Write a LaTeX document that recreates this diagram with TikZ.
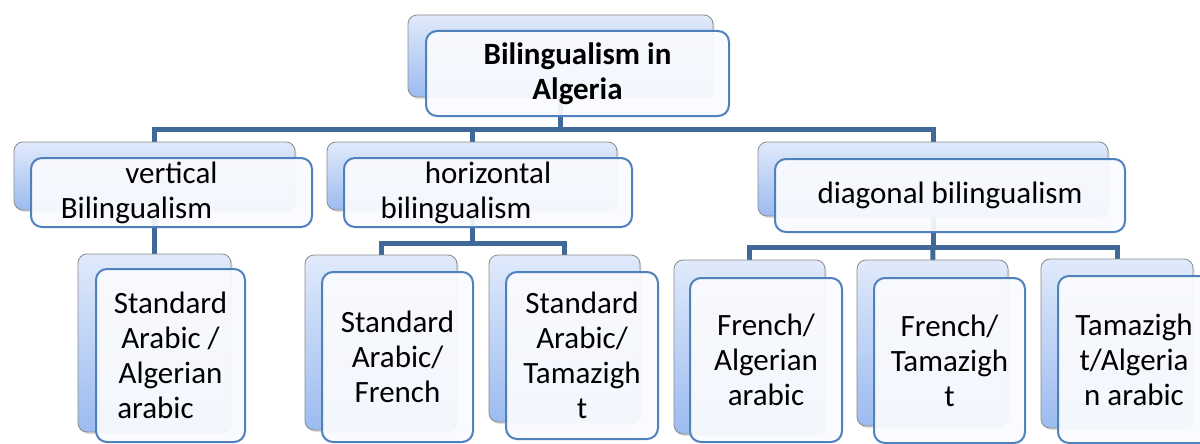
\documentclass[tikz,border=0pt]{standalone}
\usepackage{fontspec}
\setmainfont{Carlito}
\usetikzlibrary{shadows}

\definecolor{linkblue}{RGB}{64,104,152}
\definecolor{frameblue}{RGB}{79,129,189}
\definecolor{backtop}{RGB}{224,234,251}
\definecolor{backbot}{RGB}{156,187,240}
\definecolor{backedge}{RGB}{140,140,140}
\definecolor{cardwhite}{RGB}{250,251,254}

\tikzset{
  backcard/.style={draw=backedge, line width=0.8pt, rounded corners=9pt,
    top color=backtop, bottom color=backbot, inner sep=0pt,
    drop shadow={opacity=0.25, shadow xshift=1.5pt, shadow yshift=-2pt}},
  frontcard/.style={draw=frameblue, line width=2pt, rounded corners=11pt,
    fill=cardwhite, fill opacity=0.93, text opacity=1, draw opacity=1,
    inner sep=0pt, align=center, text=black,
    font=\fontsize{31}{35}\selectfont},
  link/.style={draw=linkblue, line width=5pt},
}

\begin{document}
\begin{tikzpicture}[x=1pt, y=-1pt]
\useasboundingbox (0,0) rectangle (1200,444);
\clip (0,0) rectangle (1200,444);

% levels of the connector buses
\coordinate (bus1) at (0,129);
\coordinate (bus2) at (0,243);
\coordinate (bus3) at (0,247);

% centres of the back cards
\path
  (560.5,56)  coordinate (topC)
  (154.5,176) coordinate (vertC)
  (472,176)   coordinate (horizC)
  (933,179)   coordinate (diagC)
  (154.5,343) coordinate (laC)
  (381,342.5) coordinate (lbC)
  (564.5,338.5) coordinate (lcC)
  (749.5,347) coordinate (ldC)
  (932.5,343) coordinate (leC)
  (1117,343.5) coordinate (lfC);

% connectors
\draw[link] (topC) -- (topC |- bus1);
\draw[link] (vertC) |- (topC |- bus1) -| (diagC);
\draw[link] (topC |- bus1) -| (horizC);
\draw[link] (vertC) -- (laC);
\draw[link] (horizC) -- (horizC |- bus2);
\draw[link] (lbC) |- (horizC |- bus2) -| (lcC);
\draw[link] (diagC) -- (diagC |- bus3);
\draw[link] (ldC) |- (diagC |- bus3) -| (lfC);
\draw[link] (diagC |- bus3) -- (leC);

% top card
\node[backcard, minimum width=305pt, minimum height=82pt] (topB) at (topC) {};
\node[frontcard, minimum width=303pt, minimum height=85pt] (topF) at (577.5,73.5)
  {\bfseries Bilingualism in\\ \bfseries Algeria};

% second level
\node[backcard, minimum width=281pt, minimum height=68pt] (vertB) at (vertC) {};
\node[frontcard, minimum width=281pt, minimum height=69pt] (vertF) at (171.5,192.5)
  {vertical\\ Bilingualism\hspace*{70pt}};

\node[backcard, minimum width=290pt, minimum height=68pt] (horizB) at (horizC) {};
\node[frontcard, minimum width=288pt, minimum height=69pt] (horizF) at (488,192.5)
  {horizontal\\ bilingualism\hspace*{64pt}};

\node[backcard, minimum width=350pt, minimum height=74pt] (diagB) at (diagC) {};
\node[frontcard, minimum width=350pt, minimum height=73pt] (diagF) at (950,195.5)
  {diagonal bilingualism};

% third level
\node[backcard, minimum width=153pt, minimum height=178pt] (laB) at (laC) {};
\node[frontcard, minimum width=149pt, minimum height=173pt] (laF) at (170.5,355.5)
  {Standard\\ Arabic /\\ Algerian\\ arabic\hspace*{30pt}};

\node[backcard, minimum width=152pt, minimum height=175pt] (lbB) at (lbC) {};
\node[frontcard, minimum width=151pt, minimum height=170pt] (lbF) at (397.5,357)
  {Standard\\ Arabic/\\ French};

\node[backcard, minimum width=151pt, minimum height=167pt] (lcB) at (lcC) {};
\node[frontcard, minimum width=152pt, minimum height=167pt] (lcF) at (582,355.5)
  {Standard\\ Arabic/\\ Tamazigh\\ t};

\node[backcard, minimum width=151pt, minimum height=174pt] (ldB) at (ldC) {};
\node[frontcard, minimum width=152pt, minimum height=164pt] (ldF) at (766,360)
  {French/\\ Algerian\\ arabic};

\node[backcard, minimum width=151pt, minimum height=166pt] (leB) at (leC) {};
\node[frontcard, minimum width=151pt, minimum height=165pt] (leF) at (949.5,360.5)
  {French/\\ Tamazigh\\ t};

\node[backcard, minimum width=152pt, minimum height=169pt] (lfB) at (lfC) {};
\node[frontcard, minimum width=152pt, minimum height=167pt] (lfF) at (1134,359.5)
  {Tamazigh\\ t/Algeria\\ n arabic};
\end{tikzpicture}
\end{document}
